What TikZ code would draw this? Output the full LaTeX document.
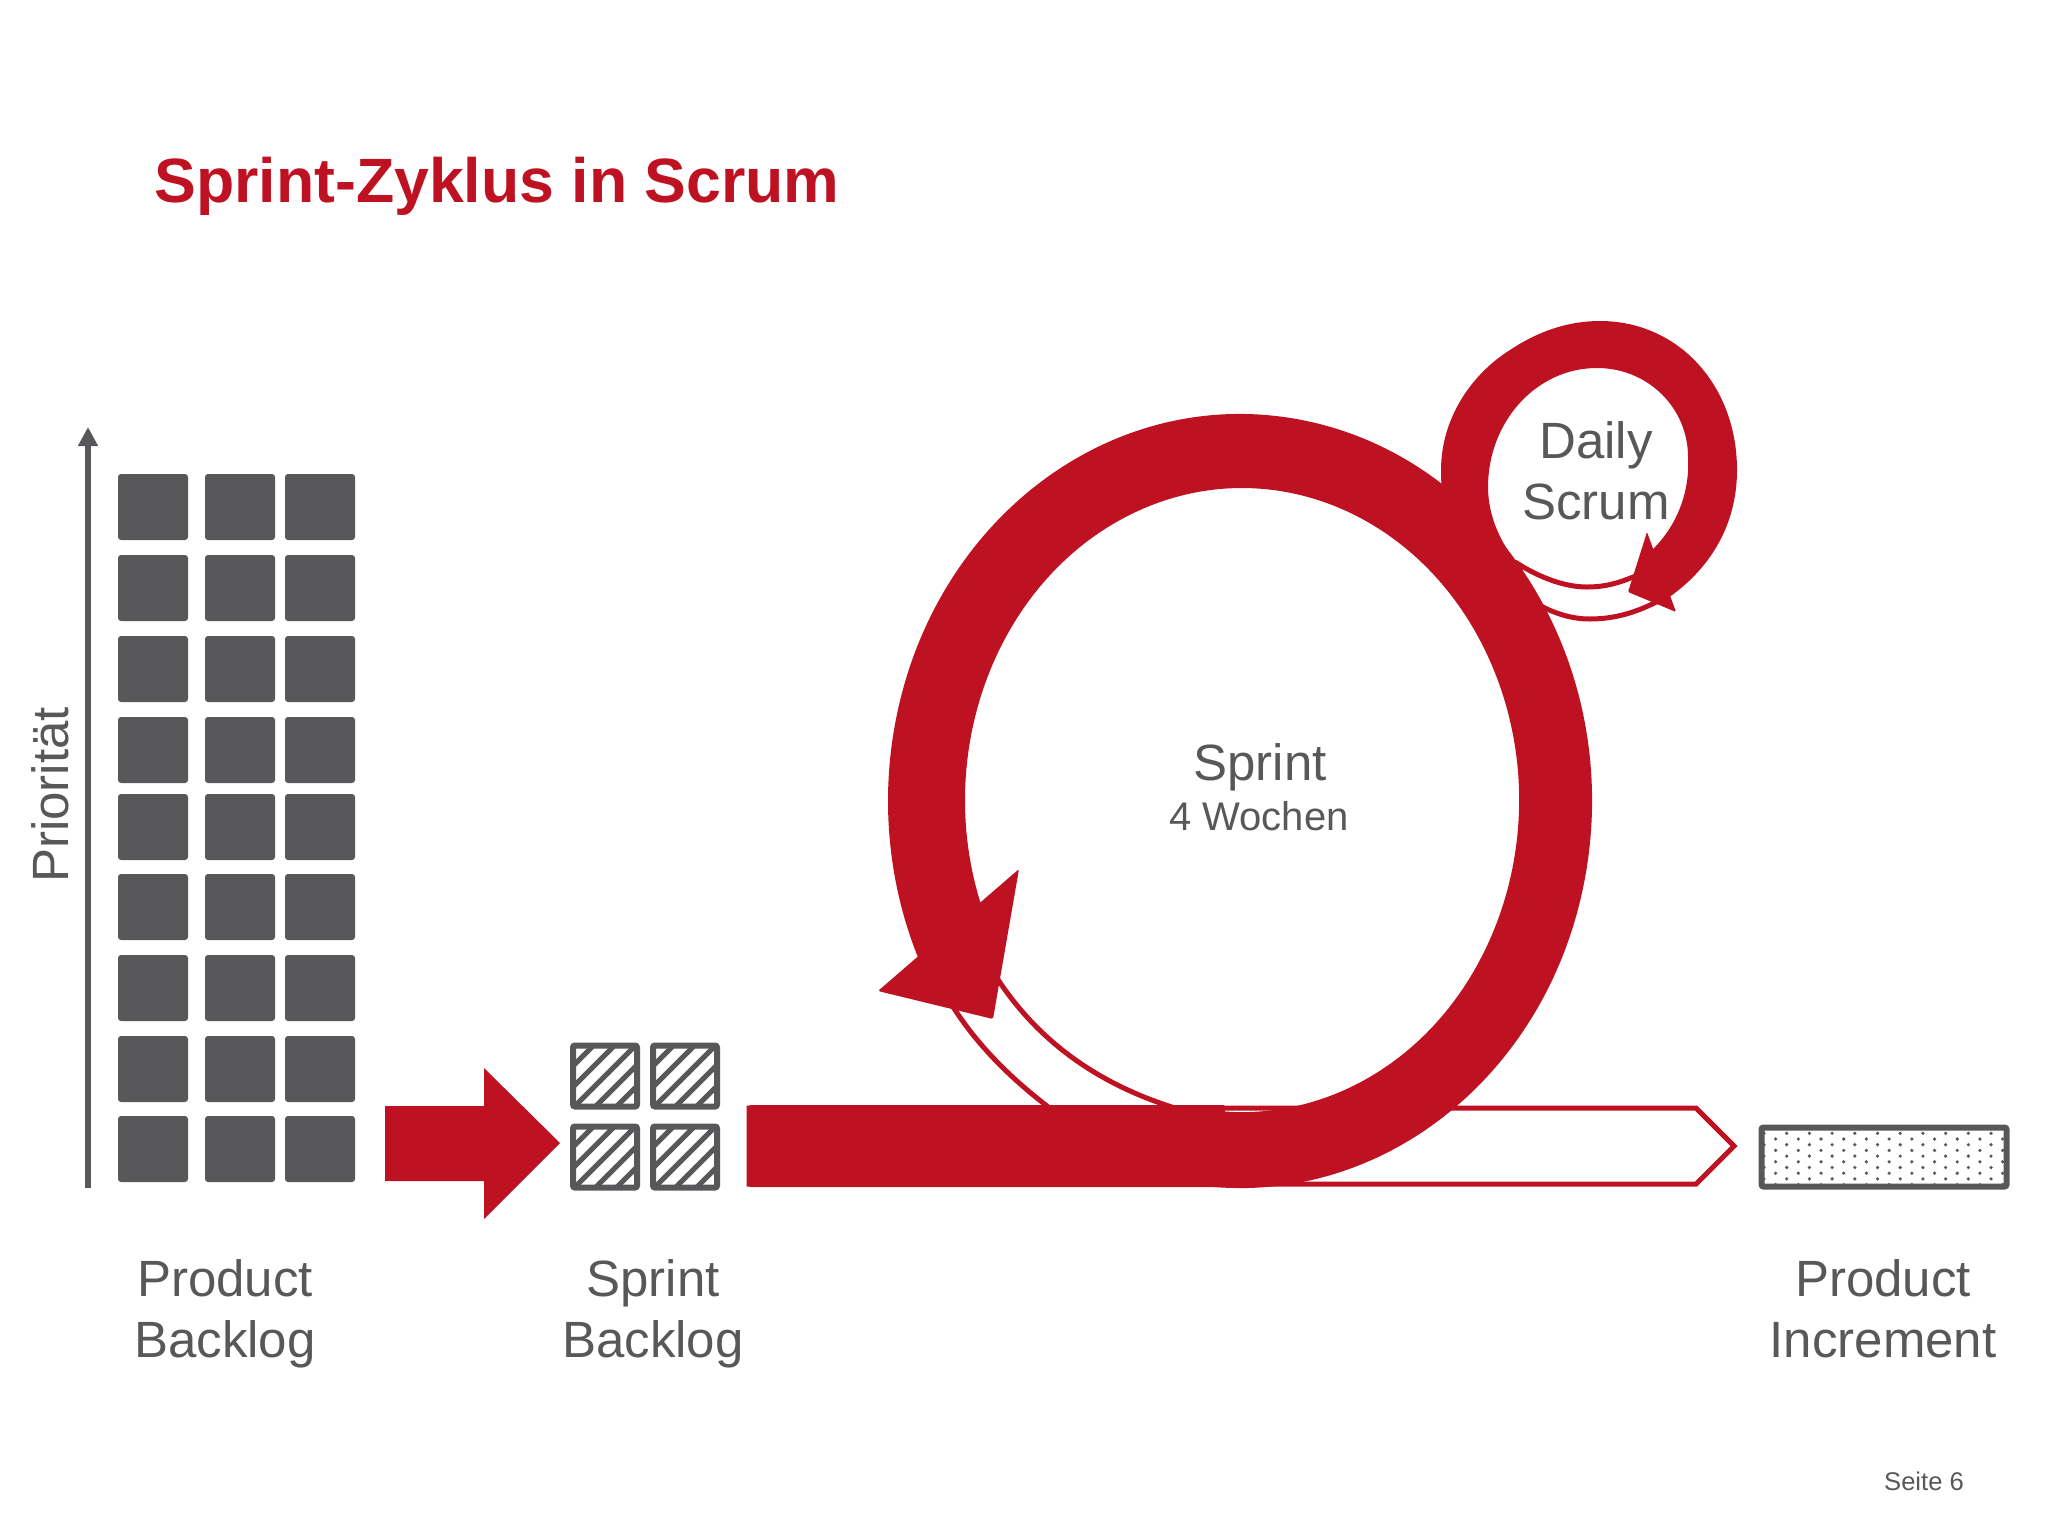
\documentclass[tikz,border=0pt]{standalone}
\usepackage{fontspec}
\setmainfont{Liberation Sans}
\usetikzlibrary{arrows.meta,calc}
\definecolor{scrumred}{HTML}{BE1222}
\definecolor{ink}{HTML}{58585A}
\tikzset{
	label/.style={text=ink,align=center,inner sep=0pt,font=\fontsize{25.5}{30.5}\selectfont},
	card/.style={fill=ink,rounded corners=1.5pt,minimum width=35pt,minimum height=33pt,inner sep=0pt},
	hatchcard/.style={draw=ink,line width=3pt,rounded corners=1pt,minimum width=32pt,minimum height=30.5pt,inner sep=0pt,
		path picture={\foreach \k in {-4,...,4}
			\draw[ink,line width=2.6pt] ($(path picture bounding box.center)+(\k*21-60,60)$)--++(120,-120);}},
	thin/.style={draw=scrumred,line width=2.5pt}
}
\begin{document}
\begin{tikzpicture}[x=.5pt,y=-.5pt]
	\useasboundingbox (0,0) rectangle (2048,1536);
	\node[anchor=base west,inner sep=0pt,text=scrumred,font=\fontsize{31.3}{36}\selectfont\bfseries] (title) at (154,202) {Sprint-Zyklus in Scrum};
	% axis
	\coordinate (axisfoot) at (88,1188);
	\coordinate (axistop) at (88,427);
	\draw[ink,line width=3pt,-{Triangle[width=9.5pt,length=9.5pt]}] (axisfoot)--(axistop);
	\node[label,rotate=90] (prio) at (50,795) {Priorität};
	% product backlog
	\foreach \x in {153,240,320}
		\foreach \y in {507,588,669,750,827,907,988,1069,1149}
			\node[card] (pb-\x-\y) at (\x,\y) {};
	\node[label] (pblabel) at (225,1314) {Product\\Backlog};
	% pull arrow
	\fill[scrumred] (385,1106)--(484,1106)--(484,1068)--(560,1143)--(484,1219)--(484,1181)--(385,1181)--cycle;
	% sprint backlog
	\foreach \x in {605,685}
		\foreach \y in {1076,1157}
			\node[hatchcard] (sb-\x-\y) at (\x,\y) {};
	\node[label] (sblabel) at (653,1314) {Sprint\\Backlog};
	% timeline bar
	\draw[thin,fill=white] (749,1108)--(1696,1108)--(1734,1146)--(1696,1184)--(749,1184)--cycle;
	\fill[scrumred,rounded corners=1pt] (749,1105) rectangle (1225,1187);
	% daily ring
	\fill[scrumred] (1451,521) .. controls (1441,500) and (1441,480) .. (1441,470)
		.. controls (1441,420) and (1470,375) .. (1510,350)
		.. controls (1540,330) and (1570,321) .. (1600,321)
		.. controls (1678,321) and (1737,385) .. (1737,470)
		.. controls (1737,525) and (1710,570) .. (1665,600)
		--(1652,550) .. controls (1678,525) and (1690,490) .. (1688,457)
		.. controls (1688,408) and (1648,368) .. (1597,368)
		.. controls (1536,368) and (1488,422) .. (1488,487)
		.. controls (1488,515) and (1500,545) .. (1523,570)--cycle;
	\draw[thin] (1515,562) .. controls (1540,578) and (1565,587) .. (1587,587) .. controls (1605,587) and (1620,583) .. (1640,574);
	\draw[thin] (1535,603) .. controls (1555,614) and (1572,619) .. (1590,619) .. controls (1615,619) and (1638,612) .. (1660,600);
	\fill[scrumred,rounded corners=.6pt] (1647,532)--(1676,612)--(1628,592)--cycle;
	% sprint ring
	\draw[thin] (950,1002) .. controls (972,1038) and (1005,1075) .. (1055,1112);
	\draw[thin] (995,975) .. controls (1030,1030) and (1085,1080) .. (1175,1108);
	\fill[scrumred] (1240,801) ++(100:352 and 387) arc[start angle=100,end angle=-208,x radius=352,y radius=387]
		--(989,927) arc[start angle=-204,end angle=100,x radius=277,y radius=312]--cycle;
	\fill[scrumred,rounded corners=.8pt] (1019,869)--(878,991)--(993,1019)--cycle;
	% increment
	\foreach \r in {0,...,9}
		\foreach \c in {0,...,10}
			\fill[ink] ({1764+22.7*\c+11.6*mod(\r,2)},{1133.3+5.7*\r}) circle (1.8);
	\node[draw=ink,line width=3pt,rounded corners=1pt,minimum width=122.5pt,minimum height=29.5pt,inner sep=0pt] (incr) at (1884,1157) {};
	\node[label] (pilabel) at (1883,1309) {Product\\Increment};
	\node[label] (sprint) at (1260,767) {Sprint};
	\node[label,font=\fontsize{20}{24}\selectfont] (weeks) at (1259,816) {4 Wochen};
	\node[label] (daily) at (1596,471) {Daily\\Scrum};
	\node[label,font=\fontsize{12.8}{15}\selectfont] (page) at (1924,1481) {Seite 6};
\end{tikzpicture}
\end{document}
